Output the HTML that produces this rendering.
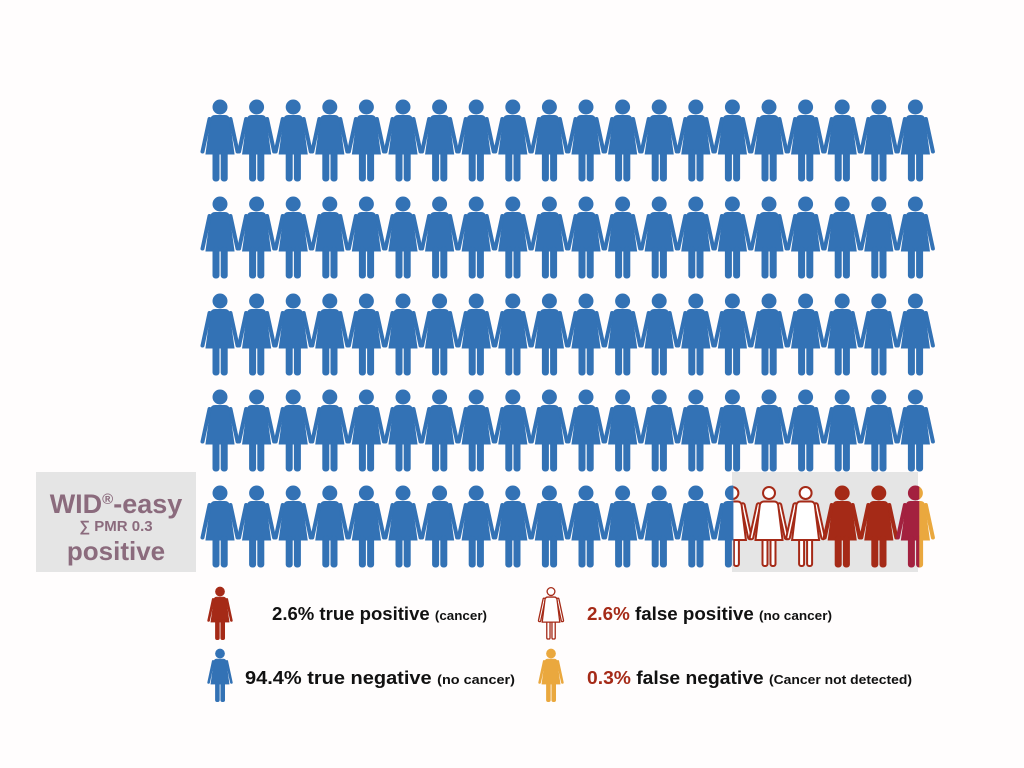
<!DOCTYPE html>
<html><head><meta charset="utf-8"><style>
html,body{margin:0;padding:0;background:#fffdfd;}
svg{display:block}
text{font-family:"Liberation Sans",sans-serif;font-weight:bold}
</style></head><body>
<svg width="1024" height="768" viewBox="0 0 1024 768" xmlns="http://www.w3.org/2000/svg" xmlns:xlink="http://www.w3.org/1999/xlink">
<defs>
<g id="fig">
<circle cx="0" cy="7" r="7"/>
<path d="M-5,15.5 Q-8.5,15.5 -9.2,19 L-14,54 L14,54 L9.2,19 Q8.5,15.5 5,15.5 Z"/>
<line x1="-10.5" y1="19" x2="-17.5" y2="51.5" stroke-width="4" stroke-linecap="round"/>
<line x1="10.5" y1="19" x2="17.5" y2="51.5" stroke-width="4" stroke-linecap="round"/>
<rect x="-7" y="50" width="6" height="31" rx="2.5"/>
<rect x="1.2" y="50" width="6" height="31" rx="2.5"/>
</g>
<g id="bfig" fill="#3372b5" stroke="#3372b5"><use href="#fig"/></g>
<g id="ofig" fill="#fff" stroke="#a52a17" stroke-width="2">
<circle cx="0" cy="7" r="6"/>
<line x1="-10.5" y1="19" x2="-17.5" y2="51.5" stroke-width="5.5" stroke-linecap="round"/>
<line x1="10.5" y1="19" x2="17.5" y2="51.5" stroke-width="5.5" stroke-linecap="round"/>
<line x1="-10.5" y1="19" x2="-17.5" y2="51.5" stroke="#fff" stroke-width="1.5" stroke-linecap="round"/>
<line x1="10.5" y1="19" x2="17.5" y2="51.5" stroke="#fff" stroke-width="1.5" stroke-linecap="round"/>
<rect x="-6.5" y="50" width="5" height="30" rx="2"/>
<rect x="1.5" y="50" width="5" height="30" rx="2"/>
<path d="M-5,15.5 Q-8.5,15.5 -9.2,19 L-13.5,54 L13.5,54 L9.2,19 Q8.5,15.5 5,15.5 Z"/>
</g>
<clipPath id="cl"><rect x="-20" y="-2" width="21" height="90"/></clipPath>
<clipPath id="cr"><rect x="1" y="-2" width="21" height="90"/></clipPath>
<clipPath id="cl2"><rect x="-20" y="-2" width="24" height="90"/></clipPath>
<clipPath id="cr2"><rect x="4" y="-2" width="21" height="90"/></clipPath>
<g id="row14">
<use href="#bfig" x="220"/><use href="#bfig" x="256.6"/><use href="#bfig" x="293.2"/><use href="#bfig" x="329.8"/><use href="#bfig" x="366.4"/><use href="#bfig" x="403"/><use href="#bfig" x="439.6"/><use href="#bfig" x="476.2"/><use href="#bfig" x="512.8"/><use href="#bfig" x="549.4"/><use href="#bfig" x="586"/><use href="#bfig" x="622.6"/><use href="#bfig" x="659.2"/><use href="#bfig" x="695.8"/>
</g>
<g id="row">
<use href="#row14"/>
<use href="#bfig" x="732.4"/><use href="#bfig" x="769"/><use href="#bfig" x="805.6"/><use href="#bfig" x="842.2"/><use href="#bfig" x="878.8"/><use href="#bfig" x="915.4"/>
</g>
</defs>
<rect x="36" y="472" width="160" height="100" fill="#e5e5e5"/>
<rect x="732" y="472" width="186" height="100" fill="#e5e5e5"/>
<text x="116" y="513" text-anchor="middle" font-size="27" fill="#8b6b7d">WID<tspan font-size="15" dy="-9">®</tspan><tspan dy="9">-easy</tspan></text>
<text x="116" y="531" text-anchor="middle" font-size="15" fill="#8b6b7d">∑ PMR 0.3</text>
<text x="116" y="560" text-anchor="middle" font-size="26" fill="#8b6b7d">positive</text>

<use href="#row" y="100"/>
<use href="#row" y="197"/>
<use href="#row" y="294"/>
<use href="#row" y="390"/>
<use href="#row14" y="486"/>
<g transform="translate(732.4,486)"><g clip-path="url(#cr)"><use href="#ofig"/></g><g clip-path="url(#cl)"><use href="#bfig"/></g></g>
<use href="#ofig" x="769" y="486"/>
<use href="#ofig" x="805.6" y="486"/>
<use href="#fig" x="842.2" y="486" fill="#a52a17" stroke="#a52a17"/>
<use href="#fig" x="878.8" y="486" fill="#a52a17" stroke="#a52a17"/>
<g transform="translate(915.4,486)"><g clip-path="url(#cl2)"><use href="#fig" fill="#a3213f" stroke="#a3213f"/></g><g clip-path="url(#cr2)"><use href="#fig" fill="#eaa83e" stroke="#eaa83e"/></g></g>

<use href="#fig" transform="translate(220,587) scale(0.65)" fill="#a52a17" stroke="#a52a17"/>
<use href="#fig" transform="translate(220,649) scale(0.65)" fill="#3372b5" stroke="#3372b5"/>
<use href="#ofig" transform="translate(551,587) scale(0.65)"/>
<use href="#fig" transform="translate(551,649) scale(0.65)" fill="#eaa83e" stroke="#eaa83e"/>
<text x="272" y="620" font-size="18" fill="#111" textLength="215" lengthAdjust="spacingAndGlyphs">2.6% true positive <tspan font-size="13">(cancer)</tspan></text>
<text x="245" y="684" font-size="18" fill="#111" textLength="270" lengthAdjust="spacingAndGlyphs">94.4% true negative <tspan font-size="13">(no cancer)</tspan></text>
<text x="587" y="620" font-size="18" fill="#111" textLength="245" lengthAdjust="spacingAndGlyphs"><tspan fill="#a52a17">2.6%</tspan> false positive <tspan font-size="13">(no cancer)</tspan></text>
<text x="587" y="684" font-size="18" fill="#111" textLength="325" lengthAdjust="spacingAndGlyphs"><tspan fill="#a52a17">0.3%</tspan> false negative <tspan font-size="13">(Cancer not detected)</tspan></text>
</svg>
</body></html>
